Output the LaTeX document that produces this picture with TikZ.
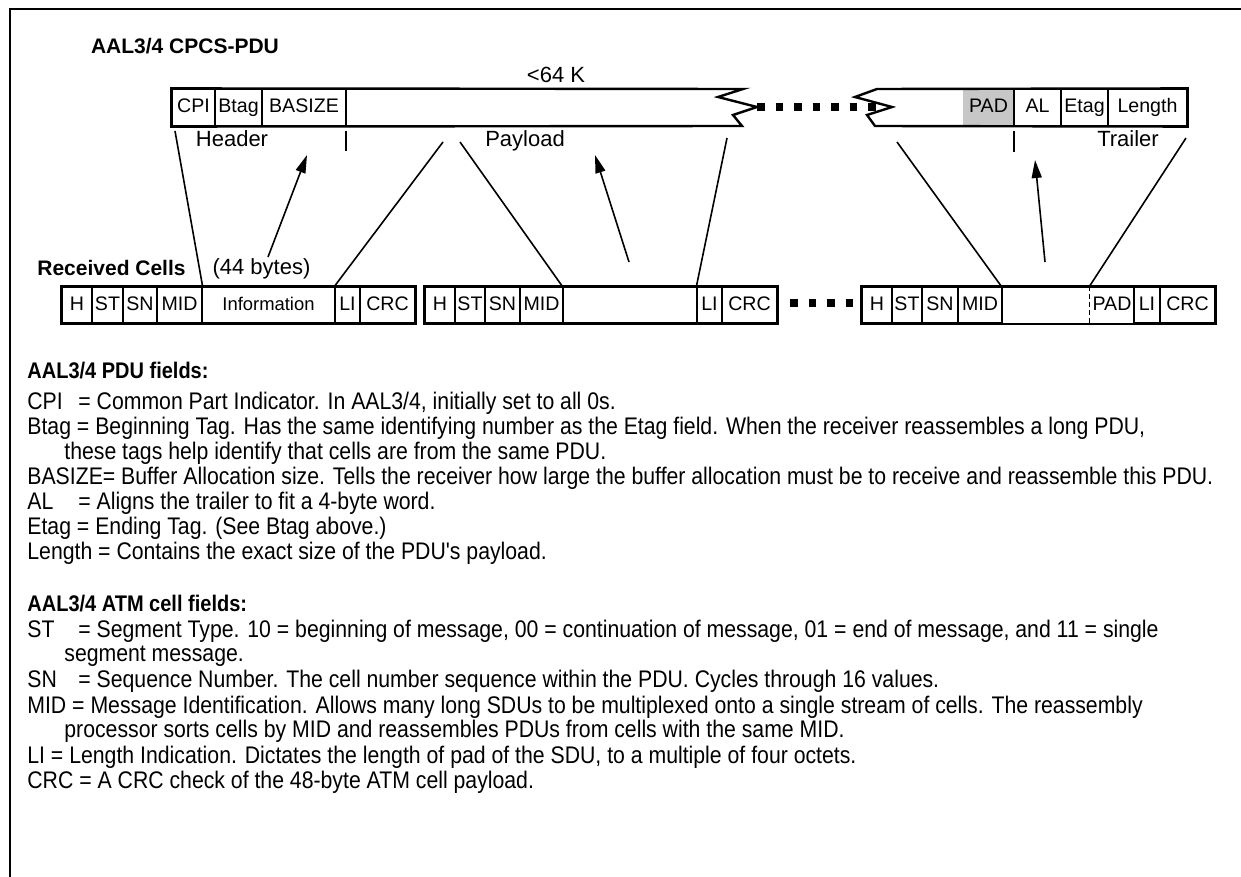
\documentclass[tikz,border=0pt]{standalone}
\usepackage{fontspec}
\setmainfont{Liberation Sans}
\newfontfamily\narrowfont[FakeStretch=0.885]{Liberation Sans}
\usetikzlibrary{arrows.meta, fit}
\newcommand{\fieldname}[1]{\makebox[25.5pt][l]{#1}}

\begin{document}
\begin{tikzpicture}[x=0.5pt, y=-0.5pt,
    field/.style={draw, line width=0.6pt, inner sep=0pt, minimum height=18pt, text height=7pt, text depth=1.8pt, font=\fontsize{9.8}{10}\selectfont},
    topfield/.style={field, minimum height=18.5pt},
    outline/.style={draw, line width=1.1pt, inner sep=0pt},
    caption/.style={font=\fontsize{11}{12}\selectfont, inner sep=0pt, text height=8pt, text depth=2pt},
    heading/.style={font=\bfseries\fontsize{10.5}{12}\selectfont, inner sep=0pt},
    link/.style={line width=0.8pt},
    arrow/.style={-{Triangle[length=9pt, width=5pt]}, line width=0.8pt},
    dotrow/.style={line width=3.8pt, dash pattern=on 3.8pt off 5.45pt},
    note/.style={anchor=base west, inner sep=0pt, font=\narrowfont\fontsize{12}{12.5}\selectfont},
    notehead/.style={note, font=\narrowfont\bfseries\fontsize{11.3}{12.5}\selectfont},
  ]
  \useasboundingbox (0,0) rectangle (1241,877);
  % frame
  \draw[line width=0.8pt] (10,877) -- (10,9) -- (1241,9);

  % the CPCS-PDU
  \node[heading] (pdutitle) at (185,46) {AAL3/4 CPCS-PDU};
  \node[caption] (size) at (556,77) {<64 K};
  \node[topfield, minimum width=21.5pt] (cpi) at (193.5,107.5) {CPI};
  \node[topfield, minimum width=23.5pt] (btag) at (238.5,107.5) {Btag};
  \node[topfield, minimum width=42pt] (basize) at (304,107.5) {BASIZE};
  \node[topfield, minimum width=25.5pt, draw=none, fill=black!22] (pad) at (988.5,107.5) {PAD};
  \node[topfield, minimum width=23.5pt] (al) at (1037.5,107.5) {AL};
  \node[topfield, minimum width=23.5pt] (etag) at (1084.5,107.5) {Etag};
  \node[topfield, minimum width=39.5pt] (length) at (1147.5,107.5) {Length};
  \draw[dotrow] (757,107) -- (880,107);
  \draw[line width=1.2pt] (cpi.south west) -- (cpi.north west) -- (743,89) -- (718,97)
    -- (757,107) -- (733,115) -- (742,126) -- cycle;
  \draw[line width=1.2pt] (877,89) -- (length.north east) -- (length.south east) -- (875,126)
    -- (867,115) -- (892,107) -- (855,97) -- cycle;
  \node[caption] (header) at (232,141) {Header};
  \node[caption] (payload) at (525,141) {Payload};
  \node[caption] (trailer) at (1128,141) {Trailer};
  \draw[link] (346,131) -- (346,151);
  \draw[link] (1014,131) -- (1014,152);

  % received cells
  \node[heading] (cellstitle) at (111.5,268) {Received Cells};
  \node[caption] (bytes) at (261.5,268) {(44 bytes)};
  \node[field, minimum width=15pt] (c1h) at (77,305) {H};
  \node[field, minimum width=15.5pt] (c1st) at (107.5,305) {ST};
  \node[field, minimum width=17pt] (c1sn) at (140,305) {SN};
  \node[field, minimum width=22.5pt] (c1mid) at (179.5,305) {MID};
  \node[field, minimum width=66.5pt, font=\fontsize{9.2}{10}\selectfont] (c1info) at (268.5,305) {Information};
  \node[field, minimum width=12.5pt] (c1li) at (347.5,305) {LI};
  \node[field, minimum width=27.5pt] (c1crc) at (387.5,305) {CRC};
  \node[outline, fit=(c1h)(c1crc)] (cell1) {};

  \node[field, minimum width=15pt] (c2h) at (440,305) {H};
  \node[field, minimum width=15pt] (c2st) at (470,305) {ST};
  \node[field, minimum width=17.5pt] (c2sn) at (502.5,305) {SN};
  \node[field, minimum width=21.5pt] (c2mid) at (541.5,305) {MID};
  \node[field, minimum width=67pt] (c2info) at (630,305) {};
  \node[field, minimum width=12.5pt] (c2li) at (709.5,305) {LI};
  \node[field, minimum width=27.5pt] (c2crc) at (749.5,305) {CRC};
  \node[outline, fit=(c2h)(c2crc)] (cell2) {};

  \draw[dotrow] (790,303) -- (856,303);

  \node[field, minimum width=15pt] (c3h) at (877,305) {H};
  \node[field, minimum width=15pt] (c3st) at (907,305) {ST};
  \node[field, minimum width=18pt] (c3sn) at (940,305) {SN};
  \node[field, minimum width=22pt] (c3mid) at (980,305) {MID};
  \node[field, minimum width=44pt, draw=none] (c3info) at (1046,305) {};
  \node[field, minimum width=22pt, draw=none] (c3pad) at (1112,305) {PAD};
  \node[field, minimum width=13pt] (c3li) at (1147,305) {LI};
  \node[field, minimum width=27.5pt] (c3crc) at (1187.5,305) {CRC};
  \node[outline, fit=(c3h)(c3crc)] (cell3) {};
  \draw[line width=0.6pt, dash pattern=on 2.5pt off 1.5pt] (c3pad.north west) -- (c3pad.south west);

  % connectors
  \coordinate (hdrleft) at (175,131);
  \coordinate (hdrtip) at (307,155);
  \coordinate (c1tail) at (268,257);
  \coordinate (payleft) at (443,142);
  \coordinate (payleft2) at (460,142);
  \coordinate (paytip) at (595,155);
  \coordinate (c2tail) at (629,262);
  \coordinate (payright) at (727,138);
  \coordinate (trlleft) at (897,142);
  \coordinate (trltip) at (1035,160);
  \coordinate (c3tail) at (1045,262);
  \coordinate (trlright) at (1186,138);
  \draw[link] (hdrleft) -- (c1mid.north east);
  \draw[arrow] (c1tail) -- (hdrtip);
  \draw[link] (payleft) -- (c1li.north west);
  \draw[link] (payleft2) -- (c2info.north west);
  \draw[arrow] (c2tail) -- (paytip);
  \draw[link] (payright) -- (c2li.north west);
  \draw[link] (trlleft) -- (c3info.north west);
  \draw[arrow] (c3tail) -- (trltip);
  \draw[link] (trlright) -- (c3pad.north west);

  % field notes
  \node[notehead] (pduhead) at (27,378) {AAL3/4 PDU fields:};
  \node[note] (cpinote) at (27,409) {\fieldname{CPI}= Common Part Indicator. In AAL3/4, initially set to all 0s.};
  \node[note] (btagnote) at (27,434) {Btag = Beginning Tag. Has the same identifying number as the Etag field. When the receiver reassembles a long PDU,};
  \node[note] (btagnote2) at (64,459) {these tags help identify that cells are from the same PDU.};
  \node[note] (basizenote) at (27,484) {BASIZE= Buffer Allocation size. Tells the receiver how large the buffer allocation must be to receive and reassemble this PDU.};
  \node[note] (alnote) at (27,509) {\fieldname{AL}= Aligns the trailer to fit a 4-byte word.};
  \node[note] (etagnote) at (27,534) {Etag = Ending Tag. (See Btag above.)};
  \node[note] (lengthnote) at (27,559) {Length = Contains the exact size of the PDU's payload.};
  \node[notehead] (cellhead) at (27,611) {AAL3/4 ATM cell fields:};
  \node[note] (stnote) at (27,637) {\fieldname{ST}= Segment Type. 10 = beginning of message, 00 = continuation of message, 01 = end of message, and 11 = single};
  \node[note] (stnote2) at (64,661) {segment message.};
  \node[note] (snnote) at (27,687) {\fieldname{SN}= Sequence Number. The cell number sequence within the PDU. Cycles through 16 values.};
  \node[note] (midnote) at (27,713) {MID = Message Identification. Allows many long SDUs to be multiplexed onto a single stream of cells. The reassembly};
  \node[note] (midnote2) at (64,737) {processor sorts cells by MID and reassembles PDUs from cells with the same MID.};
  \node[note] (linote) at (27,763) {LI = Length Indication. Dictates the length of pad of the SDU, to a multiple of four octets.};
  \node[note] (crcnote) at (27,788) {CRC = A CRC check of the 48-byte ATM cell payload.};
\end{tikzpicture}
\end{document}
